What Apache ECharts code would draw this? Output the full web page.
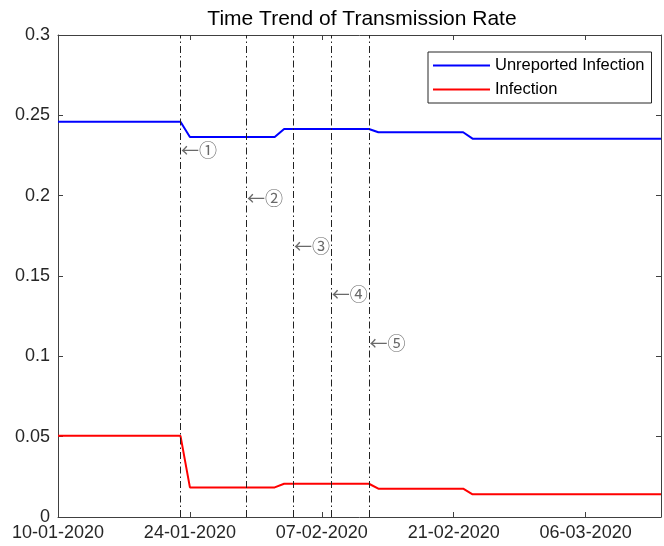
<!DOCTYPE html>
<html>
<head>
<meta charset="utf-8">
<script src="https://cdn.jsdelivr.net/npm/echarts@6/dist/echarts.min.js"></script>
<style>
html,body{margin:0;padding:0;background:#fff;}
#chart{width:664px;height:546px;}
</style>
</head>
<body>
<div id="chart"></div>
<script>
// ---- data ----
const startDate = '2020-01-10';
const endDate = '2020-03-14';
const xTickLabels = ['10-01-2020', '24-01-2020', '07-02-2020', '21-02-2020', '06-03-2020'];
const seriesNames = ['Unreported Infection', 'Infection'];
const pointDates = ['2020-01-10', '2020-01-23', '2020-01-24', '2020-02-02', '2020-02-03',
                    '2020-02-12', '2020-02-13', '2020-02-22', '2020-02-23', '2020-03-14'];
const unreportedValues = [0.246, 0.246, 0.2365, 0.2365, 0.2415, 0.2415, 0.2395, 0.2395, 0.2355, 0.2355];
const infectionValues  = [0.0505, 0.0505, 0.0184, 0.0184, 0.0207, 0.0207, 0.0176, 0.0176, 0.0141, 0.0141];
const eventDates  = ['2020-01-23', '2020-01-30', '2020-02-04', '2020-02-08', '2020-02-12'];
const eventLabels = ['←①', '←②', '←③', '←④', '←⑤'];
const eventLabelY = [0.2285, 0.1985, 0.1685, 0.1385, 0.1085];

// ---- helpers ----
const DAY = 86400000;
const dayOf = d => Math.round((Date.parse(d) - Date.parse(startDate)) / DAY);
const xMax = dayOf(endDate);
const tickStep = 14;

const font = 'Liberation Sans, Arial, Helvetica, sans-serif';
const axisColor = '#404040';
const textColor = '#262626';

const unreportedData = pointDates.map((d, i) => [dayOf(d), unreportedValues[i]]);
const infectionData = pointDates.map((d, i) => [dayOf(d), infectionValues[i]]);
const eventData = eventDates.map((d, i) => [dayOf(d), eventLabelY[i], eventLabels[i]]);

const chart = echarts.init(document.getElementById('chart'), null, {renderer: 'canvas'});

const axisLine = () => ({show: true, onZero: false, lineStyle: {color: axisColor, width: 1}});
const tickIn = () => ({show: true, inside: true, length: 5, lineStyle: {color: axisColor, width: 1}});

chart.setOption({
  animation: false,
  backgroundColor: '#fff',
  title: {
    text: 'Time Trend of Transmission Rate',
    left: 362,
    textAlign: 'center',
    top: 9,
    padding: 0,
    textStyle: {fontFamily: font, fontSize: 21, fontWeight: 'normal', color: '#000'}
  },
  legend: {
    data: seriesNames,
    orient: 'vertical',
    left: 428,
    top: 52,
    padding: [5, 7, 5, 5],
    itemGap: 7,
    itemWidth: 57,
    itemHeight: 2,
    itemTextGap: 4,
    icon: 'rect',
    borderColor: textColor,
    borderWidth: 1,
    backgroundColor: '#fff',
    textStyle: {fontFamily: font, fontSize: 16.5, color: '#000'}
  },
  grid: {left: 58, right: 1, top: 35, bottom: 29, containLabel: false},
  xAxis: [{
    type: 'value',
    min: 0,
    max: xMax,
    interval: tickStep,
    position: 'bottom',
    axisLine: axisLine(),
    axisTick: tickIn(),
    splitLine: {show: false},
    axisLabel: {
      fontFamily: font, fontSize: 18, color: textColor, margin: 7,
      formatter: v => (v % tickStep === 0 ? (xTickLabels[v / tickStep] || '') : '')
    }
  }, {
    type: 'value',
    min: 0,
    max: xMax,
    interval: tickStep,
    position: 'top',
    axisLine: axisLine(),
    axisTick: tickIn(),
    splitLine: {show: false},
    axisLabel: {show: false}
  }],
  yAxis: [{
    type: 'value',
    min: 0,
    max: 0.3,
    interval: 0.05,
    position: 'left',
    axisLine: axisLine(),
    axisTick: tickIn(),
    splitLine: {show: false},
    axisLabel: {fontFamily: font, fontSize: 18, color: textColor, margin: 8}
  }, {
    type: 'value',
    min: 0,
    max: 0.3,
    interval: 0.05,
    position: 'right',
    axisLine: axisLine(),
    axisTick: tickIn(),
    splitLine: {show: false},
    axisLabel: {show: false}
  }],
  series: [{
    name: seriesNames[0],
    type: 'line',
    data: unreportedData,
    symbol: 'none',
    lineStyle: {color: '#0000ff', width: 2},
    itemStyle: {color: '#0000ff'},
    z: 3,
    markLine: {
      silent: true,
      symbol: 'none',
      label: {show: false},
      lineStyle: {color: '#222', width: 1, type: [7, 3, 1.5, 3]},
      data: eventDates.map(d => ({xAxis: dayOf(d)}))
    }
  }, {
    name: seriesNames[1],
    type: 'line',
    data: infectionData,
    symbol: 'none',
    lineStyle: {color: '#ff0000', width: 2},
    itemStyle: {color: '#ff0000'},
    z: 3
  }, {
    name: 'events',
    type: 'scatter',
    data: eventData,
    symbol: 'circle',
    symbolSize: 1,
    itemStyle: {color: 'rgba(0,0,0,0)'},
    silent: true,
    label: {
      show: true,
      position: 'right',
      distance: 0,
      formatter: p => p.data[2],
      fontFamily: 'Noto Sans CJK SC, sans-serif',
      fontSize: 18,
      color: '#444'
    }
  }]
});
</script>
</body>
</html>
